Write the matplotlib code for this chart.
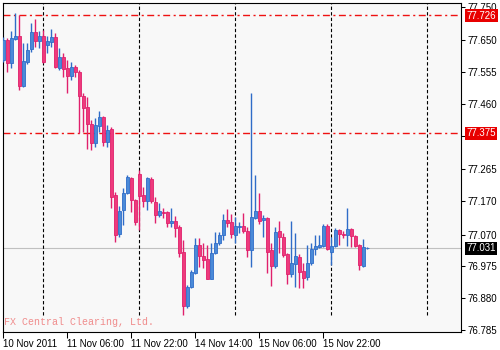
import matplotlib
matplotlib.use('Agg')
import matplotlib.pyplot as plt
import numpy as np

# hourly candles, 10 Nov 2011 14:00 onwards
opens  = [77.592, 77.651, 77.583, 77.654, 77.663, 77.514, 77.586, 77.625, 77.675, 77.648,
          77.663, 77.636, 77.645, 77.660, 77.568, 77.601, 77.568, 77.544, 77.571, 77.556,
          77.484, 77.451, 77.401, 77.344, 77.395, 77.421, 77.347, 77.386, 77.188, 77.072,
          77.144, 77.194, 77.240, 77.174, 77.251, 77.188, 77.171, 77.236, 77.168, 77.129,
          77.139, 77.138, 77.105, 77.111, 77.093, 77.018, 76.857, 76.914, 76.955, 77.039,
          77.006, 76.997, 76.938, 77.015, 77.045, 77.069, 77.114, 77.108, 77.069, 77.093,
          77.096, 77.081, 77.024, 77.120, 77.141, 77.114, 77.120, 77.024, 76.976, 77.081,
          77.063, 77.012, 76.952, 76.982, 77.003, 76.961, 76.943, 76.985, 77.027, 77.033,
          77.036, 77.096, 77.018, 77.036, 77.084, 77.072, 77.069, 77.087, 77.066, 77.039,
          76.976, 77.029]
highs  = [77.660, 77.657, 77.678, 77.732, 77.726, 77.642, 77.642, 77.702, 77.714, 77.678,
          77.681, 77.663, 77.684, 77.672, 77.628, 77.613, 77.592, 77.586, 77.577, 77.562,
          77.493, 77.481, 77.412, 77.418, 77.439, 77.424, 77.398, 77.392, 77.197, 77.156,
          77.209, 77.248, 77.243, 77.176, 77.263, 77.212, 77.242, 77.242, 77.183, 77.165,
          77.150, 77.140, 77.150, 77.126, 77.099, 77.054, 76.920, 76.964, 77.060, 77.060,
          77.045, 77.039, 77.045, 77.078, 77.078, 77.132, 77.147, 77.132, 77.123, 77.108,
          77.135, 77.093, 77.493, 77.248, 77.194, 77.129, 77.123, 77.045, 77.093, 77.111,
          77.075, 77.015, 77.111, 77.075, 77.012, 76.985, 77.039, 77.045, 77.069, 77.069,
          77.102, 77.102, 77.063, 77.090, 77.087, 77.081, 77.150, 77.090, 77.069, 77.042,
          77.057, 77.033]
lows   = [77.586, 77.556, 77.568, 77.651, 77.502, 77.512, 77.580, 77.616, 77.631, 77.628,
          77.583, 77.613, 77.631, 77.568, 77.562, 77.541, 77.493, 77.532, 77.541, 77.375,
          77.377, 77.326, 77.323, 77.332, 77.377, 77.335, 77.332, 77.150, 77.048, 77.063,
          77.099, 77.190, 77.138, 77.099, 77.084, 77.153, 77.144, 77.165, 77.105, 77.123,
          77.120, 77.093, 77.093, 77.063, 77.003, 76.830, 76.851, 76.911, 76.952, 76.973,
          76.970, 76.936, 76.936, 77.013, 77.039, 77.054, 77.093, 77.060, 77.045, 77.075,
          77.075, 77.003, 76.973, 77.118, 77.102, 77.063, 76.955, 76.917, 76.970, 77.015,
          77.003, 76.923, 76.943, 76.914, 76.911, 76.911, 76.935, 76.979, 77.009, 77.030,
          77.033, 77.024, 76.979, 77.033, 77.039, 77.060, 77.036, 77.033, 77.033, 76.964,
          76.973, 77.028]
closes = [77.651, 77.583, 77.657, 77.663, 77.514, 77.589, 77.622, 77.675, 77.648, 77.663,
          77.586, 77.648, 77.660, 77.571, 77.601, 77.565, 77.544, 77.571, 77.556, 77.484,
          77.448, 77.401, 77.344, 77.398, 77.421, 77.347, 77.383, 77.183, 77.069, 77.141,
          77.194, 77.242, 77.174, 77.108, 77.185, 77.171, 77.239, 77.171, 77.129, 77.141,
          77.136, 77.105, 77.111, 77.090, 77.015, 76.857, 76.914, 76.958, 77.039, 77.006,
          76.994, 76.938, 77.015, 77.045, 77.069, 77.114, 77.105, 77.072, 77.096, 77.096,
          77.081, 77.024, 77.123, 77.141, 77.111, 77.120, 77.018, 76.976, 77.078, 77.063,
          77.009, 76.952, 76.985, 77.006, 76.958, 76.941, 76.985, 77.027, 77.036, 77.039,
          77.096, 77.027, 77.036, 77.084, 77.072, 77.069, 77.087, 77.066, 77.036, 76.979,
          77.033, 77.031]

tick_pos    = [0, 16, 32, 48, 64, 80]
tick_labels = ['10 Nov 2011', '11 Nov 06:00', '11 Nov 22:00',
               '14 Nov 14:00', '15 Nov 06:00', '15 Nov 22:00']
day_breaks  = [10, 34, 58, 82, 106]
price_ticks = [77.750, 77.650, 77.555, 77.460, 77.365, 77.265,
               77.170, 77.070, 76.975, 76.880, 76.785]
level_hi = 77.726
level_lo = 77.375
bid      = 77.031

plt.rcParams['font.family'] = 'Liberation Sans'

o = np.array(opens); h = np.array(highs); l = np.array(lows); c = np.array(closes)
x = np.arange(len(o))
up = c >= o

fig = plt.figure(figsize=(5, 3.5), dpi=100)
ax = fig.add_axes([3/500., 18/350., 458/500., 329/350.])
ax.set_facecolor('#f8f8f8')

blue_f, blue_e = '#4a8ad8', '#2f6cc8'
pink_f, pink_e = '#ee3a7c', '#e0206c'

ax.vlines(x[up], l[up], h[up], color=blue_e, lw=1.0, zorder=3)
ax.vlines(x[~up], l[~up], h[~up], color=pink_e, lw=1.0, zorder=3)
body = np.maximum(np.abs(c - o), 0.002)
bot = np.minimum(o, c)
ax.bar(x[up], body[up], bottom=bot[up], width=0.58, color=blue_f,
       edgecolor=blue_e, lw=0.6, zorder=4)
ax.bar(x[~up], body[~up], bottom=bot[~up], width=0.58, color=pink_f,
       edgecolor=pink_e, lw=0.6, zorder=4)

for d in day_breaks:
    ax.axvline(d, ymin=0.052, ymax=1, color='black', lw=0.8,
               ls=(0, (3, 2)), zorder=2)

for lev in [level_hi, level_lo]:
    ax.axhline(lev, color='#ee1111', lw=1.0, ls=(0, (5, 2.5, 1.5, 2.5)), zorder=2)
ax.axhline(bid, color='#c0c0c0', lw=0.8, zorder=1)

ax.set_xlim(-0.1, 114.4)
ax.set_ylim(76.779, 77.762)

ax.set_xticks(tick_pos, tick_labels)
for t in ax.get_xticklabels():
    t.set_ha('left')
ax.yaxis.tick_right()
# the 77.365 label sits under the red level box, so it is left blank
ax.set_yticks(price_ticks, ['' if abs(p - level_lo) < 0.02 else '%.3f' % p
                            for p in price_ticks])
ax.tick_params(axis='x', direction='out', length=4, width=0.75, pad=1, labelsize=7)
ax.tick_params(axis='y', direction='out', length=3, width=0.75, pad=1.5, labelsize=7)
for s in ax.spines.values():
    s.set_linewidth(0.8)

for val, fc in [(level_hi, '#e80000'), (level_lo, '#e80000'), (bid, 'black')]:
    ax.annotate('%.3f' % val, xy=(1, val), xycoords=('axes fraction', 'data'),
                xytext=(4, -0.5), textcoords='offset points', va='center', ha='left',
                fontsize=7, color='white', annotation_clip=False, zorder=6,
                bbox=dict(boxstyle='square,pad=0.14', fc=fc, ec='none'))

ax.text(0.003, 0.015, 'FX Central Clearing, Ltd.', transform=ax.transAxes,
        family='Liberation Mono', fontsize=7.2, color='#f08c8c', va='bottom', ha='left')

plt.savefig('out.png', dpi=100, facecolor='white')
